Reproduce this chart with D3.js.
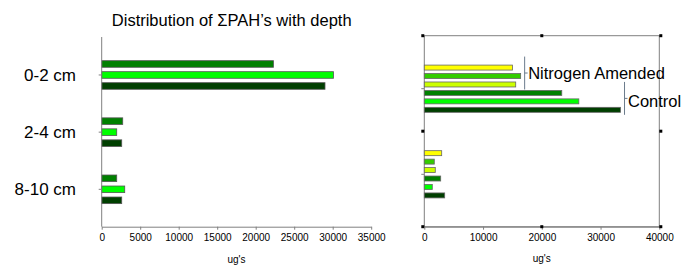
<!DOCTYPE html>
<html>
<head>
<meta charset="utf-8">
<script src="https://cdn.jsdelivr.net/npm/d3@7"></script>
<style>
    body { margin: 0; background: #fff; }
    svg { display: block; }
</style>
</head>
<body>
<div class="chart"></div>
<script>
// Depth categories (left chart) and groups (right chart)
const depths = ["0-2 cm", "2-4 cm", "8-10 cm"];
const rightGroups = ["0-2 cm", "2-4 cm"];

// Left chart series, top to bottom inside each depth
const leftSeries = ["s1", "s2", "s3"];
const leftS1 = [22300, 2730, 1950];
const leftS2 = [30100, 1950, 2990];
const leftS3 = [29000, 2600, 2600];

// Right chart series, top to bottom inside each group
const rightSeries = ["n1", "n2", "n3", "c1", "c2", "c3"];
const rightN1 = [15000, 2960];
const rightN2 = [16400, 1700];
const rightN3 = [15560, 1870];
const rightC1 = [23400, 2790];
const rightC2 = [26300, 1360];
const rightC3 = [33400, 3470];

// Tick values
const leftTicks = [0, 5000, 10000, 15000, 20000, 25000, 30000, 35000];
const rightTicks = [0, 10000, 20000, 30000, 40000];

// Colours
const colors = {
    s1: "#008000", s2: "#00ff00", s3: "#003f00",
    n1: "#ffff00", n2: "#33cc00", n3: "#ccff00",
    c1: "#008000", c2: "#00ff00", c3: "#003f00"
};

let width = 686;
let height = 265;

let svg = d3.select(".chart").append("svg")
    .attr("width", width)
    .attr("height", height)
    .style("font-family", "'Liberation Sans', Arial, sans-serif");

// ---------------- LEFT CHART ----------------
let leftData = [leftS1, leftS2, leftS3];

const xLeft = d3.scaleLinear()
    .domain([0, 35000])
    .range([101.7, 371.2]);

const yLeft = d3.scaleBand()
    .domain(depths)
    .range([46.4, 217.9]);

const yLeftInner = d3.scaleBand()
    .domain(leftSeries)
    .range([0, 33])
    .paddingInner(0.4)
    .paddingOuter(0.2);

let leftG = svg.append("g");

// title
leftG.append("text")
    .attr("x", 231.7)
    .attr("y", 26)
    .attr("text-anchor", "middle")
    .style("font-size", "16.5px")
    .text("Distribution of \u03A3PAH\u2019s with depth");

// bars
depths.forEach(function (dep, i) {
    let top = yLeft(dep) + yLeft.bandwidth() / 2 - 16.5;
    leftSeries.forEach(function (s, j) {
        leftG.append("rect")
            .attr("x", xLeft(0))
            .attr("y", top + yLeftInner(s))
            .attr("width", xLeft(leftData[j][i]) - xLeft(0))
            .attr("height", yLeftInner.bandwidth())
            .style("fill", colors[s])
            .style("stroke", "#555")
            .style("stroke-width", 0.8);
    });
});

// x axis
let xAxisLeft = leftG.append("g")
    .attr("transform", "translate(0, 226.7)")
    .call(d3.axisBottom(xLeft).tickValues(leftTicks).tickSize(3).tickSizeOuter(0).tickFormat(d3.format("d")));

// y axis
let yAxisLeft = leftG.append("g")
    .attr("transform", "translate(101.7, 0)")
    .call(d3.axisLeft(yLeft).tickSize(3).tickSizeOuter(0).tickFormat(""));
yAxisLeft.select(".domain").attr("d", "M0,37V226.7");

// depth labels
leftG.selectAll(".depthlabel")
    .data(depths)
    .enter()
    .append("text")
    .attr("class", "depthlabel")
    .attr("x", 76)
    .attr("y", function (d) { return yLeft(d) + yLeft.bandwidth() / 2; })
    .attr("dy", "0.36em")
    .attr("text-anchor", "end")
    .style("font-size", "17px")
    .text(function (d) { return d; });

leftG.append("text")
    .attr("x", 236.5)
    .attr("y", 263)
    .attr("text-anchor", "middle")
    .style("font-size", "10px")
    .text("ug's");

// ---------------- RIGHT CHART ----------------
let rightData = [rightN1, rightN2, rightN3, rightC1, rightC2, rightC3];

const xRight = d3.scaleLinear()
    .domain([0, 40000])
    .range([424.3, 659.3]);

const yRight = d3.scaleBand()
    .domain(rightGroups)
    .range([45.9, 217.1]);

const yRightInner = d3.scaleBand()
    .domain(rightSeries)
    .range([0, 50.7])
    .paddingInner(0.41)
    .paddingOuter(0.205);

let rightG = svg.append("g");

// frame
rightG.append("rect")
    .attr("x", 424.3)
    .attr("y", 35.7)
    .attr("width", 235)
    .attr("height", 191)
    .style("fill", "none")
    .style("stroke", "#808080")
    .style("stroke-width", 1);

// bars
rightGroups.forEach(function (g, i) {
    let top = yRight(g) + yRight.bandwidth() / 2 - 25.35;
    rightSeries.forEach(function (s, j) {
        rightG.append("rect")
            .attr("x", xRight(0))
            .attr("y", top + yRightInner(s))
            .attr("width", xRight(rightData[j][i]) - xRight(0))
            .attr("height", yRightInner.bandwidth())
            .style("fill", colors[s])
            .style("stroke", "#666")
            .style("stroke-width", 0.8);
    });
});

let xAxisRight = rightG.append("g")
    .attr("transform", "translate(0, 226.7)")
    .call(d3.axisBottom(xRight).tickValues(rightTicks).tickSize(3).tickSizeOuter(0).tickFormat(d3.format("d")));

let yAxisRight = rightG.append("g")
    .attr("transform", "translate(424.3, 0)")
    .call(d3.axisLeft(yRight).tickSize(3).tickSizeOuter(0).tickFormat(""));
yAxisRight.select(".domain").remove();

rightG.append("text")
    .attr("x", 541.7)
    .attr("y", 261.5)
    .attr("text-anchor", "middle")
    .style("font-size", "10px")
    .text("ug's");

// style axes
svg.selectAll(".domain").style("stroke", "#808080");
svg.selectAll(".tick line").style("stroke", "#808080");
svg.selectAll(".tick text")
    .style("font-family", "'Liberation Sans', Arial, sans-serif")
    .style("font-size", "10px")
    .style("fill", "#000")
    .attr("y", 7);

// brackets for the first group
let g0Top = yRight(rightGroups[0]) + yRight.bandwidth() / 2 - 25.35;
let brackets = [
    { label: "Nitrogen Amended", from: 0, to: 2, dyText: 0.5 },
    { label: "Control", from: 3, to: 5, dyText: 3 }
];
brackets.forEach(function (b) {
    let maxVal = d3.max(rightData.slice(b.from, b.to + 1), function (arr) { return arr[0]; });
    let bx = xRight(maxVal) + 4;
    let y1 = g0Top + yRightInner(rightSeries[b.from]) - 8.5;
    let y2 = g0Top + yRightInner(rightSeries[b.to]) + yRightInner.bandwidth() + 2.5;
    let mid = (y1 + y2) / 2;
    rightG.append("line")
        .attr("x1", bx).attr("x2", bx)
        .attr("y1", y1).attr("y2", y2)
        .style("stroke", "#6b7b8c")
        .style("stroke-width", 1);
    rightG.append("line")
        .attr("x1", bx).attr("x2", bx + 3)
        .attr("y1", mid).attr("y2", mid)
        .style("stroke", "#6b7b8c")
        .style("stroke-width", 1);
    rightG.append("text")
        .attr("x", bx + 3.5)
        .attr("y", mid + b.dyText)
        .attr("dy", "0.36em")
        .style("font-size", "16.5px")
        .text(b.label);
});

// selection handles on the right chart
let hx = [422.8, 541.8, 660.8];
let hy = [35.7, 131.2, 226.7];
hx.forEach(function (x, i) {
    hy.forEach(function (y, j) {
        if (i == 1 && j == 1) return;
        rightG.append("rect")
            .attr("x", x - 1.5)
            .attr("y", y - 1.5)
            .attr("width", 3)
            .attr("height", 3)
            .style("fill", "#000");
    });
});
</script>
</body>
</html>
